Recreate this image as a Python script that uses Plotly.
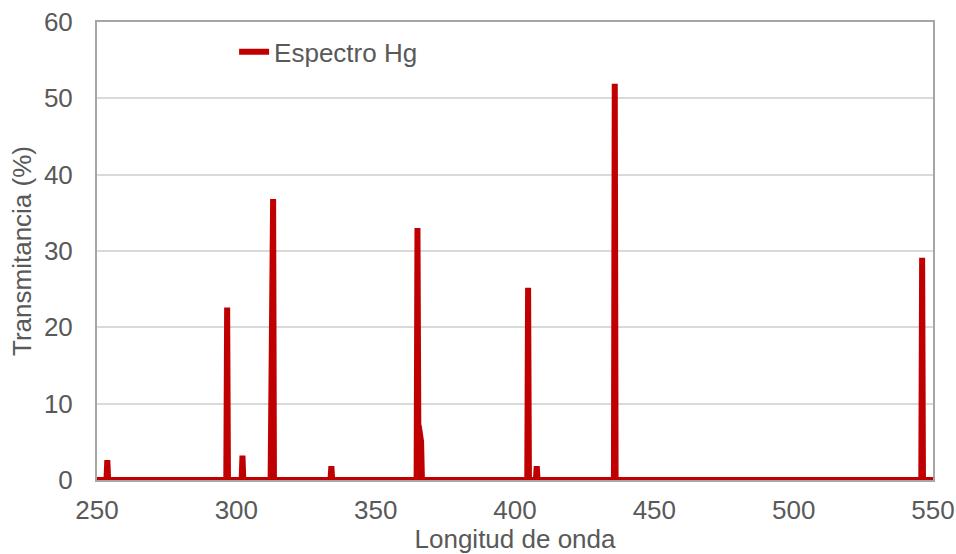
import plotly.graph_objects as go

# Mercury emission spectrum
wavelength = [250.0, 253.4, 253.7, 254.0,
              296.4, 296.7, 297.0,
              301.9, 302.2, 302.5,
              312.3, 312.6, 313.0, 313.2, 313.5,
              333.8, 334.1, 334.4,
              364.7, 365.0, 365.3, 365.5, 365.9, 366.3, 366.6,
              390.3, 390.6, 390.9,
              404.4, 404.7, 405.0,
              407.5, 407.8, 408.1,
              435.2, 435.5, 435.8, 436.1,
              491.3, 491.6, 491.9,
              545.8, 546.1, 546.4, 550.0]
transmittance = [0.0, 0.0, 2.6, 0.0,
                 0.0, 22.6, 0.0,
                 0.0, 3.2, 0.0,
                 0.0, 24.0, 24.2, 36.8, 0.0,
                 0.0, 1.8, 0.0,
                 0.0, 33.0, 7.2, 7.0, 5.2, 5.0, 0.0,
                 0.0, 0.2, 0.0,
                 0.0, 25.2, 0.0,
                 0.0, 1.8, 0.0,
                 0.0, 0.4, 51.9, 0.0,
                 0.0, 0.2, 0.0,
                 0.0, 29.1, 0.0, 0.0]

x_ticks = [250, 300, 350, 400, 450, 500, 550]
y_ticks = [0, 10, 20, 30, 40, 50, 60]

font_family = "Liberation Sans, Arial, sans-serif"
text_color = "#595959"
fsize = 26

fig = go.Figure()
fig.add_trace(go.Scatter(
    x=wavelength, y=transmittance, mode="lines", name="Espectro Hg",
    line=dict(color="#C00000", width=6),
))

fig.update_layout(
    template="none",
    width=956, height=554,
    margin=dict(l=97, r=23, t=22, b=74, pad=0),
    paper_bgcolor="white", plot_bgcolor="white",
    font=dict(family=font_family, size=fsize, color=text_color),
    showlegend=True,
    legend=dict(x=0.164, y=0.935, xanchor="left", yanchor="middle",
                bgcolor="rgba(0,0,0,0)", borderwidth=0,
                font=dict(size=fsize, color=text_color)),
    xaxis=dict(
        range=[250, 550], tickvals=x_ticks, ticks="", showgrid=False,
        showline=True, linecolor="#A6A6A6", linewidth=2, mirror=True,
        zeroline=False, automargin=False, ticklabelstandoff=6,
        ticklabeloverflow="allow",
        title=dict(text="Longitud de onda", standoff=19,
                   font=dict(size=fsize, color=text_color)),
        tickfont=dict(size=fsize, color=text_color),
    ),
    yaxis=dict(
        range=[0, 60], tickvals=y_ticks, ticks="", showgrid=True,
        gridcolor="#D9D9D9", gridwidth=1.5,
        showline=True, linecolor="#A6A6A6", linewidth=2, mirror=True,
        zeroline=False, automargin=False, ticklabelstandoff=17,
        ticklabeloverflow="allow",
        title=dict(text="Transmitancia (%)", standoff=5,
                   font=dict(size=fsize, color=text_color)),
        tickfont=dict(size=fsize, color=text_color),
    ),
)

fig.write_html(
    "out.html",
    config={"displayModeBar": False},
    post_script="document.body.style.margin='0';document.body.style.overflow='hidden';",
)
